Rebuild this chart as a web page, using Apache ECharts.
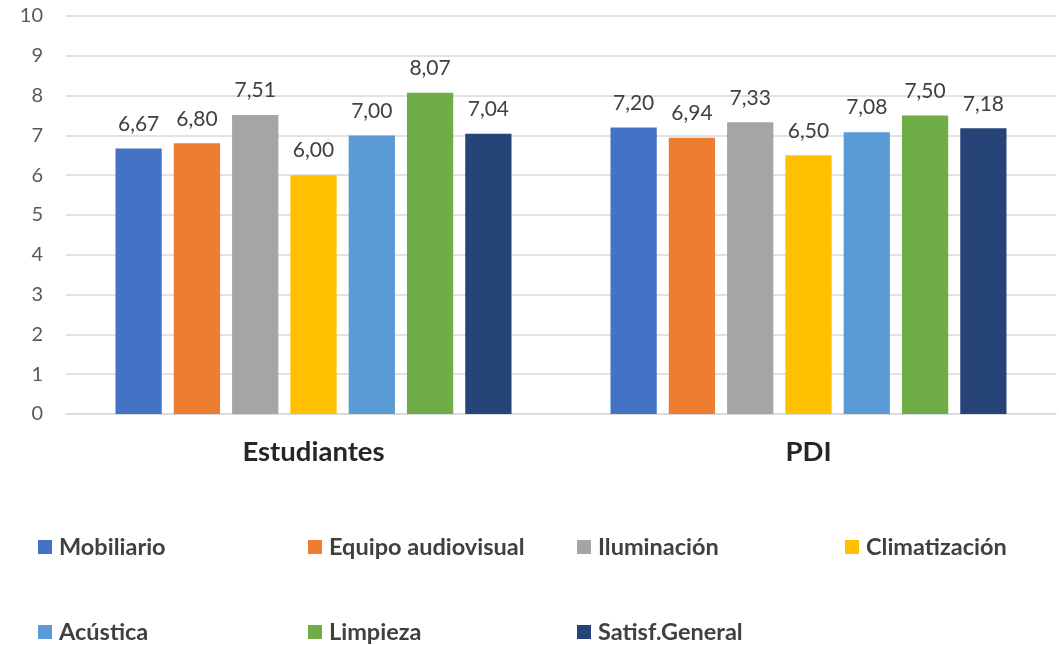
<!DOCTYPE html>
<html>
<head>
<meta charset="utf-8">
<script src="https://cdn.jsdelivr.net/npm/echarts@6/dist/echarts.min.js"></script>
<style>html,body{margin:0;padding:0;background:#fff}#c{width:1059px;height:645px}</style>
</head>
<body>
<div id="c"></div>
<script>
const categories = ['Estudiantes', 'PDI'];
const seriesNames = ['Mobiliario', 'Equipo audiovisual', 'Iluminación', 'Climatización', 'Acústica', 'Limpieza', 'Satisf.General'];
const mobiliario = [6.67, 7.20];
const equipoAudiovisual = [6.80, 6.94];
const iluminacion = [7.51, 7.33];
const climatizacion = [6.00, 6.50];
const acustica = [7.00, 7.08];
const limpieza = [8.07, 7.50];
const satisfGeneral = [7.04, 7.18];
const colors = ['#4472C4', '#ED7D31', '#A5A5A5', '#FFC000', '#5B9BD5', '#70AD47', '#264478'];
const yTicks = [0, 1, 2, 3, 4, 5, 6, 7, 8, 9, 10];

const values = [mobiliario, equipoAudiovisual, iluminacion, climatizacion, acustica, limpieza, satisfGeneral];
const FONT = 'Lato';

const legendPos = [
  [38, 535], [308, 535], [577, 535], [845, 535],
  [38, 620], [308, 620], [577, 620]
];

const chart = echarts.init(document.getElementById('c'), null, {renderer: 'canvas'});
chart.setOption({
  animation: false,
  color: colors,
  textStyle: {fontFamily: FONT},
  grid: {left: 66, right: 3, top: 16, bottom: 231, containLabel: false},
  legend: seriesNames.map((n, i) => ({
    data: [n],
    left: legendPos[i][0],
    top: legendPos[i][1],
    padding: 0,
    icon: 'rect',
    itemWidth: 14,
    itemHeight: 14,
    itemGap: 0,
    textStyle: {fontFamily: FONT, fontSize: 23.5, fontWeight: 'bold', color: '#404040', lineHeight: 24, padding: [0, 0, 0, 2]}
  })),
  xAxis: {
    type: 'category',
    data: categories,
    axisLine: {lineStyle: {color: '#D9D9D9', width: 1.5}},
    axisTick: {show: false},
    axisLabel: {fontFamily: FONT, fontSize: 27.5, fontWeight: 'bold', color: '#262626', margin: 24, lineHeight: 28}
  },
  yAxis: {
    type: 'value',
    min: yTicks[0],
    max: yTicks[yTicks.length - 1],
    interval: 1,
    axisLine: {show: false},
    axisTick: {show: false},
    splitLine: {lineStyle: {color: '#D9D9D9', width: 1.5}},
    axisLabel: {fontFamily: FONT, fontSize: 20, color: '#595959', margin: 23}
  },
  series: seriesNames.map((n, i) => ({
    name: n,
    type: 'bar',
    data: values[i],
    barGap: '26%',
    barCategoryGap: '20%',
    itemStyle: {color: colors[i]},
    label: {
      show: true,
      position: 'top',
      distance: 14,
      fontFamily: FONT,
      fontSize: 21,
      color: '#404040',
      formatter: p => p.value.toFixed(2).replace('.', ',')
    }
  }))
});
</script>
</body>
</html>
